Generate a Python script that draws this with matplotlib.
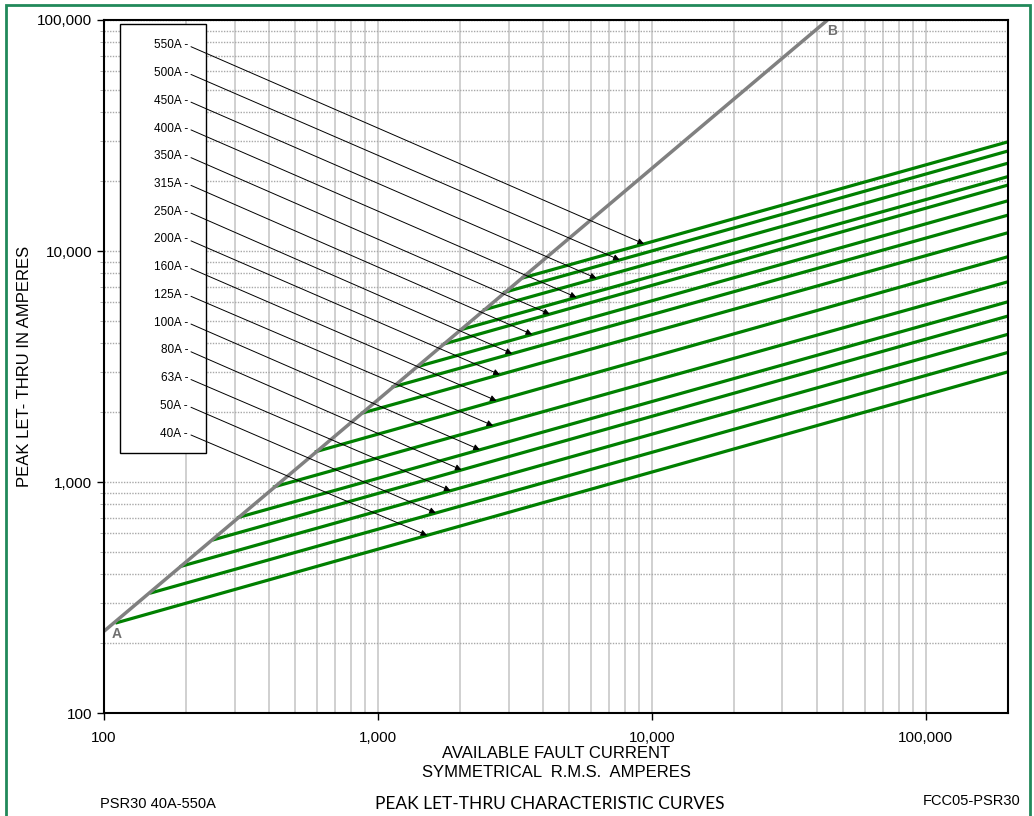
import matplotlib
matplotlib.use('Agg')
import matplotlib.pyplot as plt
from matplotlib.patches import Rectangle
from matplotlib.ticker import FixedLocator, FuncFormatter, NullFormatter
import numpy as np

plt.rcParams['font.family'] = ['Liberation Sans', 'DejaVu Sans']

# fuse ratings, top of the legend box first
ratings = ['550A', '500A', '450A', '400A', '350A', '315A', '250A', '200A',
           '160A', '125A', '100A', '80A', '63A', '50A', '40A']
# where each curve leaves the A-B line
start_x = [3345, 2864, 2421, 1991, 1731, 1391, 1122, 872,
           589, 414, 306, 248, 189, 147, 110]
start_y = [7620, 6600, 5550, 4550, 3950, 3155, 2570, 1985,
           1350, 950, 700, 560, 430, 330, 245]
# peak let-thru at the right edge of the chart
end_x = 200000
end_y = [29700, 27100, 24000, 21000, 19300, 16500, 14300, 12000,
         9450, 7360, 6030, 5230, 4360, 3640, 3000]
# x position of the arrow tip on each curve
arrow_x = [9374, 7641, 6284, 5311, 4244, 3658, 3091, 2788,
           2712, 2635, 2357, 2021, 1842, 1628, 1513]

# A-B line end points
ab_x = [100, 43850]
ab_y = [226, 100000]

fig = plt.figure(figsize=(10.34, 8.16), dpi=100)
ax = fig.add_axes([0.1006, 0.1262, 0.8743, 0.8493])
ax.set_xscale('log')
ax.set_yscale('log')
ax.set_xlim(100, 200000)
ax.set_ylim(100, 100000)

# grid: solid verticals, dotted horizontals
ax.xaxis.set_major_locator(FixedLocator([100, 1000, 10000, 100000]))
ax.yaxis.set_major_locator(FixedLocator([100, 1000, 10000, 100000]))
fmt = FuncFormatter(lambda v, p: '{:,}'.format(int(round(v))))
ax.xaxis.set_major_formatter(fmt)
ax.yaxis.set_major_formatter(fmt)
ax.xaxis.set_minor_formatter(NullFormatter())
ax.yaxis.set_minor_formatter(NullFormatter())
ax.grid(True, which='both', axis='x', color='#c8c8c8', lw=1.2, ls='-')
ax.grid(True, which='both', axis='y', color='#a8a8a8', lw=1.0, ls=(0, (1, 1)))
ax.tick_params(which='major', direction='out', length=5, width=1, labelsize=11, colors='black')
ax.tick_params(axis='x', which='minor', length=0)
ax.tick_params(axis='y', which='minor', direction='out', length=3, color='#a0a0a0')
ax.tick_params(axis='x', pad=8)
for s in ax.spines.values():
    s.set_linewidth(1.5)
    s.set_zorder(6)

# A-B line
ax.plot(ab_x, ab_y, color='#808080', lw=2.5, zorder=4, solid_capstyle='butt')
ax.text(111, 220, 'A', color='#707070', fontsize=10, fontweight='bold', ha='center', va='center')
ax.text(45400, 89500, 'B', color='#707070', fontsize=10, fontweight='bold', ha='center', va='center')

# let-thru curves
for i in range(len(ratings)):
    ax.plot([start_x[i], end_x], [start_y[i], end_y[i]], color='#008000', lw=2.3,
            zorder=3, solid_capstyle='butt')

# legend box with leader lines
box = Rectangle((0.0174, 0.3747), 0.0952, 0.6191, transform=ax.transAxes,
                facecolor='white', edgecolor='black', lw=1.0, zorder=4.5)
ax.add_patch(box)
label_py = np.linspace(46.7, 435, len(ratings))
for i, r in enumerate(ratings):
    yf = (713 - label_py[i]) / 693
    ax.text(0.0929, yf + 0.002, r + ' -', transform=ax.transAxes, ha='right', va='center',
            fontsize=8.5, zorder=7)
    # tip sits on the curve
    t = (np.log10(arrow_x[i]) - np.log10(start_x[i])) / (np.log10(end_x) - np.log10(start_x[i]))
    ty = 10 ** (np.log10(start_y[i]) + t * (np.log10(end_y[i]) - np.log10(start_y[i])))
    ax.annotate('', xy=(arrow_x[i], ty), xycoords='data',
                xytext=(0.0962, yf), textcoords='axes fraction',
                arrowprops=dict(arrowstyle='-|>', color='black', lw=0.7,
                                mutation_scale=9, shrinkA=0, shrinkB=0),
                zorder=7)

ax.set_ylabel('PEAK LET- THRU IN AMPERES', fontsize=12)
ax.yaxis.set_label_coords(-0.080, 0.5)

fig.text(556 / 1034, 1 - 763 / 816, 'AVAILABLE FAULT CURRENT\nSYMMETRICAL  R.M.S.  AMPERES',
         ha='center', va='center', fontsize=12, linespacing=1.3)
fig.text(100 / 1034, 1 - 804 / 816, 'PSR30 40A-550A', ha='left', va='center', fontsize=10.5)
fig.text(550 / 1034, 1 - 804 / 816, 'PEAK LET-THRU CHARACTERISTIC CURVES', ha='center',
         va='center', fontsize=12.5, family=['Lato', 'DejaVu Sans'])
fig.text(1020 / 1034, 1 - 801 / 816, 'FCC05-PSR30', ha='right', va='center', fontsize=10.5)

# green frame around the sheet
fig.patches.append(Rectangle((6 / 1034, -0.05), 1024 / 1034, 1.05 - 5 / 816,
                             transform=fig.transFigure, fill=False,
                             edgecolor='#21895A', lw=2))

fig.savefig('out.png', dpi=100)
